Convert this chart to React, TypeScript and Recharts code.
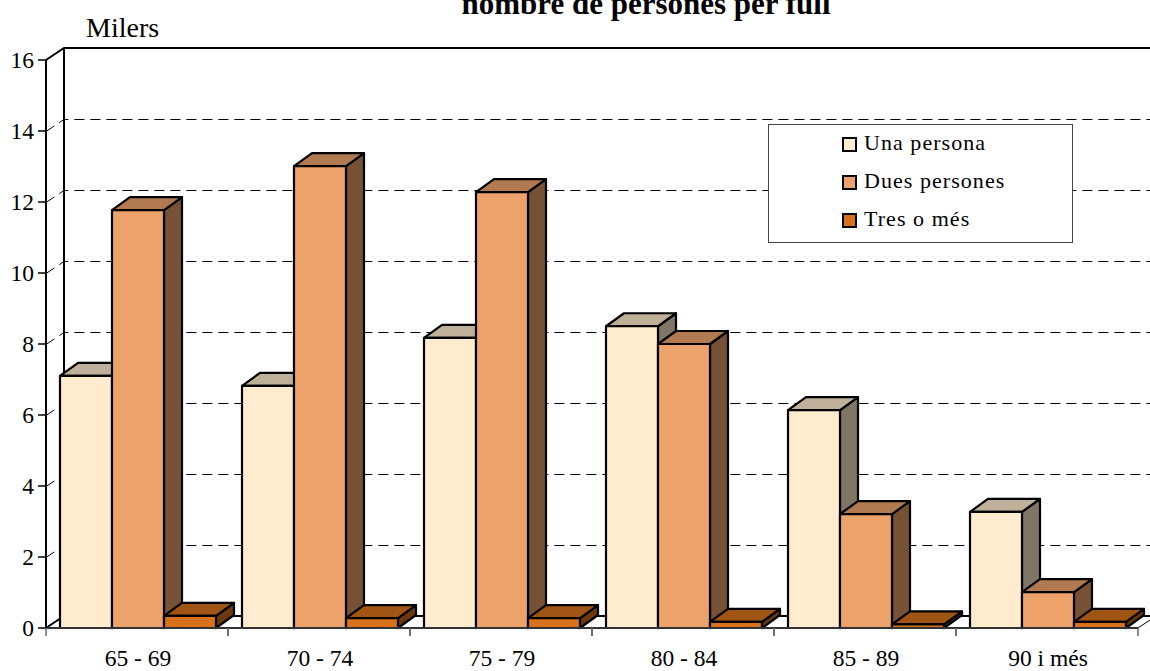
import { Bar, BarChart, CartesianGrid, Legend, XAxis, YAxis } from 'recharts';

const grups = ['65 - 69', '70 - 74', '75 - 79', '80 - 84', '85 - 89', '90 i més'];
const unaPersona = [7.1, 6.82, 8.17, 8.5, 6.14, 3.27];
const duesPersones = [11.77, 13.01, 12.28, 8.0, 3.21, 1.01];
const tresOMes = [0.34, 0.28, 0.28, 0.17, 0.1, 0.17];
const ticksY = [0, 2, 4, 6, 8, 10, 12, 14, 16];

const data = grups.map((grup, i) => ({
  grup,
  una: unaPersona[i],
  dues: duesPersones[i],
  tres: tresOMes[i],
}));

const FONT = '"Liberation Serif", "Times New Roman", serif';
const W = 1150;
const H = 671;
const LEFT = 46;
const RIGHT = 1138;
const TOP = 60;
const BOTTOM = 628;
// fals 3D: desplacament del pla del fons
const DX = 18;
const DY = 12;
const BAR_DY = 13;

const colors: Record<string, { top: string; side: string }> = {
  '#FFEBCD': { top: '#BFB099', side: '#807666' },
  '#EDA26C': { top: '#B27A51', side: '#775136' },
  '#D7711B': { top: '#A15514', side: '#6C390E' },
};

function Bar3D(props: any) {
  const { width, height, fill } = props;
  const x = props.x + 1; // la banda queda 1px a l'esquerra de l'original
  const y = props.y;
  const c = colors[fill];
  const base = { stroke: '#000', strokeWidth: 2.2, strokeLinejoin: 'round' as const };
  return (
    <g>
      <path
        d={`M${x + width},${y} l${DX},${-BAR_DY} v${height} l${-DX},${BAR_DY} Z`}
        fill={c.side}
        {...base}
      />
      <path
        d={`M${x},${y} l${DX},${-BAR_DY} h${width} l${-DX},${BAR_DY} Z`}
        fill={c.top}
        {...base}
      />
      <rect x={x} y={y} width={width} height={height} fill={fill} {...base} />
    </g>
  );
}

function GridLine(props: any) {
  const y = props.y1;
  const solid = y <= TOP + 1 || y >= BOTTOM - 1;
  return (
    <path
      d={`M${LEFT},${solid ? y : y + 0.5} l${DX},${-DY} H${W}`}
      fill="none"
      stroke="#000"
      strokeWidth={solid ? 2 : 1}
      strokeDasharray={solid ? undefined : '10 6'}
    />
  );
}

function TickX(props: any) {
  const { x, y, payload } = props;
  const half = (RIGHT - LEFT) / grups.length / 2;
  return (
    <g>
      <line x1={x - half} x2={x - half} y1={BOTTOM} y2={BOTTOM + 8} stroke="#666" strokeWidth={1.5} />
      <line x1={x + half} x2={x + half} y1={BOTTOM} y2={BOTTOM + 8} stroke="#666" strokeWidth={1.5} />
      <text x={x + 1} y={y + 30} textAnchor="middle" fontFamily={FONT} fontSize={23.5} fill="#000">
        {payload.value}
      </text>
    </g>
  );
}

function LegendBox({ payload }: any) {
  return (
    <div
      style={{
        boxSizing: 'border-box',
        width: 305,
        height: 119,
        border: '1px solid #444',
        background: '#fff',
        paddingLeft: 73,
        fontFamily: FONT,
        fontSize: 22,
        letterSpacing: 1.05,
        lineHeight: '24px',
        color: '#000',
      }}
    >
      {(payload || []).map((p: any) => (
        <div key={p.value} style={{ display: 'flex', alignItems: 'center', height: 38, marginTop: 0 }}>
          <span
            style={{
              boxSizing: 'border-box',
              width: 15,
              height: 15,
              border: '2px solid #000',
              background: p.color,
              marginRight: 7,
            }}
          />
          <span style={{ position: 'relative', top: -1 }}>{p.value}</span>
        </div>
      ))}
    </div>
  );
}

export default function App() {
  return (
    <div style={{ position: 'absolute', left: 0, top: 0, width: W, height: H, overflow: 'hidden', background: '#fff' }}>
      <BarChart
        width={W}
        height={H}
        data={data}
        margin={{ top: TOP, right: W - RIGHT, bottom: 0, left: 0 }}
        barSize={52}
        barGap={0}
      >
        <text x={646} y={14} textAnchor="middle" fontFamily={FONT} fontWeight="bold" fontSize={31} fill="#000">
          nombre de persones per full
        </text>
        <text x={86} y={37} fontFamily={FONT} fontSize={28} fill="#000">
          Milers
        </text>
        <CartesianGrid vertical={false} horizontal={(p: any) => <GridLine key={p.y1} {...p} />} />
        <line x1={LEFT + DX} x2={LEFT + DX} y1={TOP - DY} y2={BOTTOM - DY} stroke="#000" strokeWidth={2} />
        <line x1={RIGHT} x2={RIGHT + DX} y1={BOTTOM} y2={BOTTOM - DY} stroke="#000" strokeWidth={1} />
        <XAxis
          dataKey="grup"
          height={H - BOTTOM}
          interval={0}
          axisLine={{ stroke: '#333', strokeWidth: 2 }}
          tickLine={false}
          tick={<TickX />}
        />
        <YAxis
          width={LEFT}
          domain={[0, 16]}
          ticks={ticksY}
          interval={0}
          tickSize={8}
          tickMargin={4}
          axisLine={{ stroke: '#000', strokeWidth: 2 }}
          tickLine={{ stroke: '#000', strokeWidth: 1.5 }}
          tick={{ fontFamily: FONT, fontSize: 23.5, fill: '#000' }}
        />
        <Legend
          layout="horizontal"
          verticalAlign="middle"
          align="center"
          itemSorter={null}
          content={<LegendBox />}
          wrapperStyle={{ left: 768, top: 124, width: 305, height: 119, margin: 0 }}
        />
        <Bar dataKey="una" name="Una persona" fill="#FFEBCD" shape={<Bar3D />} isAnimationActive={false} />
        <Bar dataKey="dues" name="Dues persones" fill="#EDA26C" shape={<Bar3D />} isAnimationActive={false} />
        <Bar dataKey="tres" name="Tres o més" fill="#D7711B" shape={<Bar3D />} isAnimationActive={false} />
      </BarChart>
    </div>
  );
}
